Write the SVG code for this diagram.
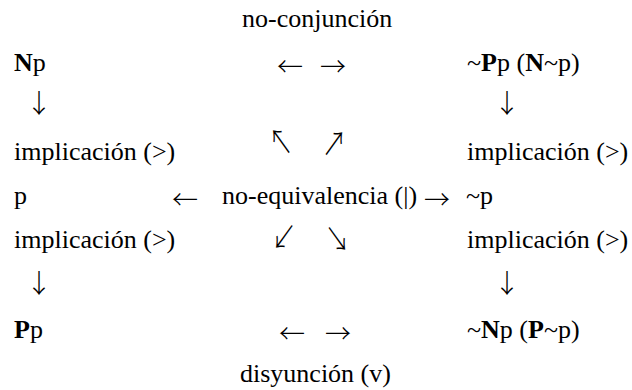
<svg xmlns="http://www.w3.org/2000/svg" width="632" height="390" viewBox="0 0 632 390">
<style>
text{font-family:'Liberation Serif','Times New Roman',serif;font-size:26px;fill:#000}
.b{font-weight:bold}
#connectors text{font-family:'Noto Sans CJK JP','Liberation Serif',serif;font-weight:300}
</style>
<rect width="632" height="390" fill="#fff"/>
<g id="no-conjuncion"><text x="242" y="27">no-conjunción</text></g>
<g id="Np"><text x="14" y="71"><tspan class="b">N</tspan>p</text></g>
<g id="notPp"><text x="467" y="71">~<tspan class="b">P</tspan>p (<tspan class="b">N</tspan>~p)</text></g>
<g id="impl-tl"><text x="14" y="160">implicación (&gt;)</text></g>
<g id="impl-tr"><text x="467" y="160">implicación (&gt;)</text></g>
<g id="p"><text x="14" y="204">p</text></g>
<g id="no-equivalencia"><text x="222" y="204">no-equivalencia (|)</text></g>
<g id="notp"><text x="466" y="204">~p</text></g>
<g id="impl-bl"><text x="14" y="248">implicación (&gt;)</text></g>
<g id="impl-br"><text x="467" y="248">implicación (&gt;)</text></g>
<g id="Pp"><text x="14" y="338"><tspan class="b">P</tspan>p</text></g>
<g id="notNp"><text x="467" y="338">~<tspan class="b">N</tspan>p (<tspan class="b">P</tspan>~p)</text></g>
<g id="disyuncion"><text x="240" y="382">disyunción (v)</text></g>
<g id="connectors">
<text x="277" y="76">←</text><text x="320" y="76">→</text>
<text x="26" y="113">↓</text><text x="494" y="113">↓</text>
<text transform="translate(281 143) scale(0.95 1.25)" x="-13" y="9">↖</text>
<text transform="translate(334 145) scale(0.95 1.25)" x="-13" y="9">↗</text>
<text x="172" y="209">←</text><text x="424" y="209">→</text>
<text transform="translate(284 238) scale(0.95 1.25)" x="-13" y="9">↙</text>
<text transform="translate(337 240) scale(0.95 1.25)" x="-13" y="9">↘</text>
<text x="26" y="293">↓</text><text x="494" y="293">↓</text>
<text x="279" y="343">←</text><text x="325" y="343">→</text>
</g>
</svg>
